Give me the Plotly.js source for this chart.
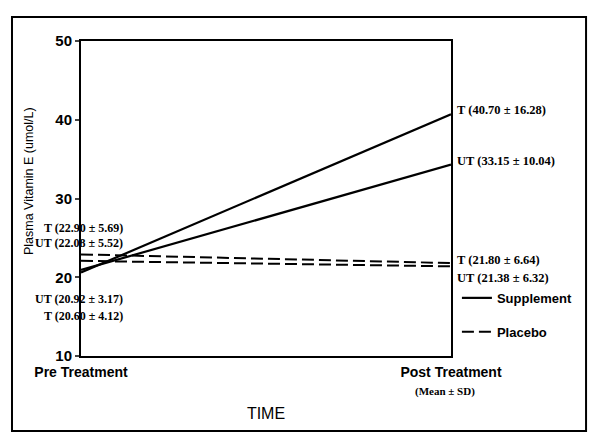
<!DOCTYPE html>
<html lang="en">

<head>
    <meta charset="UTF-8">
    <title>Plasma Vitamin E</title>
    <script src="https://cdn.plot.ly/plotly-3.0.1.min.js"></script>
    <style>
        body {
            margin: 0;
            padding: 0;
            background: white;
        }

        #plot {
            width: 600px;
            height: 446px;
        }
    </style>
</head>

<body>
    <div id="plot"></div>

    <script>
        const times = ['Pre Treatment', 'Post Treatment'];

        // values as drawn on the chart (umol/L)
        const suppT = [20.60, 40.70];
        const suppUT = [20.92, 34.30];
        const placT = [22.90, 21.80];
        const placUT = [22.08, 21.38];

        // mean ± SD labels
        const preLabels = ['T (22.90 ± 5.69)', 'UT (22.08 ± 5.52)', 'UT (20.92 ± 3.17)', 'T (20.60 ± 4.12)'];
        const preLabelY = [26.25, 24.35, 17.2, 15.1];
        const postLabels = ['T (40.70 ± 16.28)', 'UT (33.15 ± 10.04)', 'T (21.80 ± 6.64)', 'UT (21.38 ± 6.32)'];
        const postLabelY = [41.2, 34.8, 22.2, 19.9];

        const yTicks = [10, 20, 30, 40, 50];

        const xs = [0, 1];
        const solid = {color: 'black', width: 2.2};
        const dashed = {color: 'black', width: 2, dash: '12px,5px'};

        const traces = [
            {x: xs, y: suppT, mode: 'lines', line: solid, name: 'Supplement', legendgroup: 's', showlegend: true},
            {x: xs, y: suppUT, mode: 'lines', line: solid, legendgroup: 's', showlegend: false},
            {x: xs, y: placT, mode: 'lines', line: dashed, name: 'Placebo', legendgroup: 'p', showlegend: true},
            {x: xs, y: placUT, mode: 'lines', line: dashed, legendgroup: 'p', showlegend: false}
        ];

        const serif = 'Liberation Serif, Times New Roman, serif';
        const annotations = [];
        preLabels.forEach((t, i) => {
            annotations.push({
                x: 0, y: preLabelY[i], xref: 'x', yref: 'y', text: t,
                showarrow: false, xanchor: 'right', xshift: 44,
                font: {family: serif, size: 12, color: 'black', weight: 'bold'}
            });
        });
        postLabels.forEach((t, i) => {
            annotations.push({
                x: 1, y: postLabelY[i], xref: 'x', yref: 'y', text: t,
                showarrow: false, xanchor: 'left', xshift: 4,
                font: {family: serif, size: 12.5, color: 'black', weight: 'bold'}
            });
        });
        annotations.push({
            x: 0.985, y: -0.114, xref: 'paper', yref: 'paper', text: '(Mean ± SD)',
            showarrow: false, xanchor: 'center', yanchor: 'middle',
            font: {family: serif, size: 11, color: 'black', weight: 'bold'}
        });
        // y axis title, sitting above the centre like in the original
        annotations.push({
            x: -0.14, y: 0.556, xref: 'paper', yref: 'paper', text: 'Plasma Vitamin E (umol/L)',
            showarrow: false, textangle: -90, xanchor: 'center', yanchor: 'middle',
            font: {size: 12.5, color: 'black'}
        });

        const layout = {
            width: 600,
            height: 446,
            margin: {l: 81, r: 149, t: 41, b: 90},
            paper_bgcolor: 'white',
            plot_bgcolor: 'white',
            font: {family: 'Arial, Liberation Sans, sans-serif', color: 'black'},
            xaxis: {
                range: [0, 1],
                tickvals: xs,
                ticktext: times,
                ticks: '',
                ticklabelstandoff: 2,
                showgrid: false,
                zeroline: false,
                showline: true,
                linecolor: 'black',
                linewidth: 2,
                mirror: true,
                tickfont: {size: 14, weight: 'bold'},
                title: {text: 'TIME', font: {size: 16}, standoff: 29}
            },
            yaxis: {
                range: [10, 50],
                tickvals: yTicks,
                ticks: 'outside',
                ticklen: 4,
                tickwidth: 1.5,
                showgrid: false,
                zeroline: false,
                showline: true,
                linecolor: 'black',
                linewidth: 2,
                mirror: true,
                tickfont: {size: 15, weight: 'bold'}
            },
            showlegend: true,
            legend: {
                x: 1.016, y: 0.232, xanchor: 'left', yanchor: 'top',
                bgcolor: 'rgba(0,0,0,0)',
                font: {size: 13, weight: 'bold'},
                tracegroupgap: 14
            },
            annotations: annotations,
            shapes: [{
                type: 'rect', xref: 'paper', yref: 'paper',
                x0: -0.1865, x1: 1.365, y0: -0.238, y1: 1.076,
                line: {color: 'black', width: 2}
            }]
        };

        Plotly.newPlot('plot', traces, layout, {displayModeBar: false});
    </script>
</body>

</html>
